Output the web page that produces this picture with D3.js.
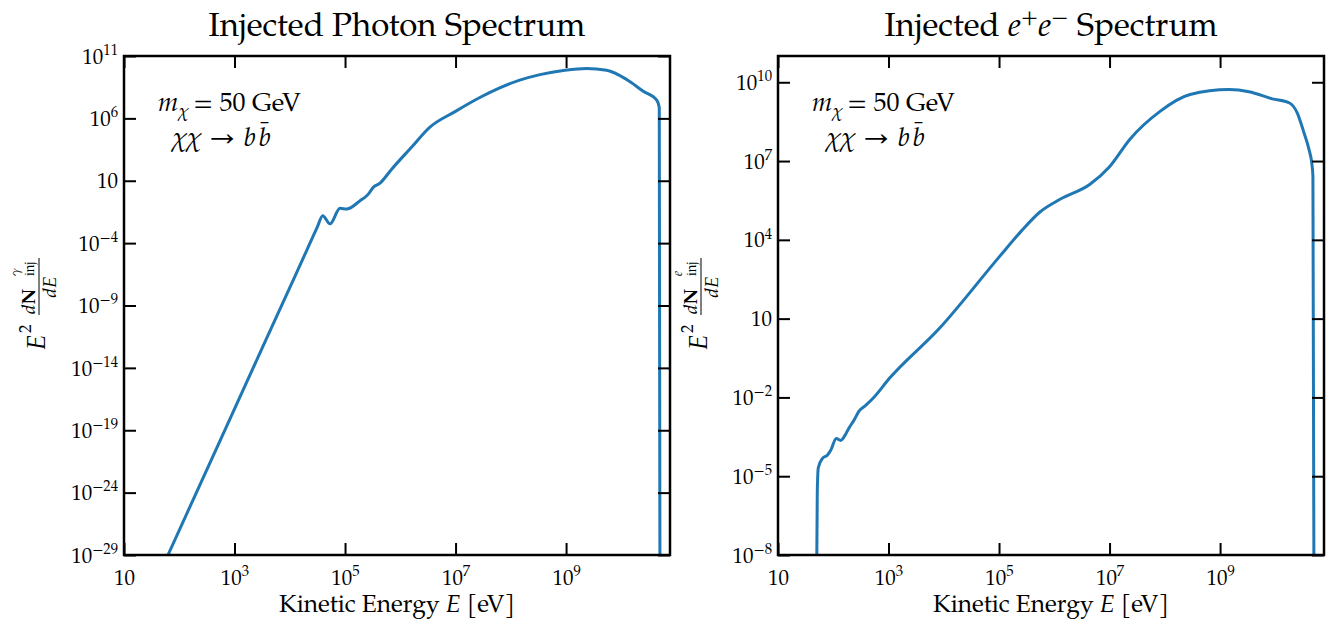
<!DOCTYPE html>
<html>
<head>
<meta charset="utf-8">
<script src="https://cdn.jsdelivr.net/npm/d3@7"></script>
<style>
  body { margin: 0; background: #fff; }
  svg text { font-family: "P052", "TeX Gyre Pagella", "URW Palladio L", "Palatino Linotype", "Palatino", "Liberation Serif", serif; fill: #000; }
</style>
</head>
<body>
<svg id="fig" width="1328" height="621"></svg>
<script>
// Injected photon spectrum, E^2 dN/dE vs kinetic energy E [eV]
const photonEnergy = [50, 62.5, 3.16e3, 1.01e4, 2.0e4, 3.16e4, 3.94e4, 5.35e4, 8.11e4, 1.07e5, 1.87e5, 2.64e5,
  3.24e5, 4.30e5, 6.98e5, 1.55e6, 3.44e6, 9.8e6, 2.75e7, 6.3e7, 1.45e8, 3.37e8, 9.55e8, 2.36e9, 5.43e9,
  1.25e10, 2.49e10, 4.37e10, 4.86e10, 5.0e10];
const photonValue = [1.15e-30, 1e-29, 3.8e-13, 3.0e-8, 2.3e-5, 2.0e-3, 1.6e-2, 3.5e-3, 6.2e-2, 5.4e-2, 0.25, 0.85,
  2.95, 6.5, 85, 4.2e3, 2.0e5, 3.5e6, 4.7e7, 2.8e8, 1.15e9, 3.2e9, 7.1e9, 9.8e9, 7.1e9,
  1.3e9, 1.5e8, 2.9e7, 7.1e6, 1e-31];

// Injected e+e- spectrum
const electronEnergy = [50, 51.4, 53.6, 63.4, 78, 90, 113.5, 136.5, 163, 193, 237, 292, 386, 546, 1020,
  8200, 1.0e5, 2.5e5, 5.5e5, 1.27e6, 4.43e6, 9.8e6, 2.34e7, 8.2e7, 2.86e8, 1.45e9, 3.34e9, 8.81e9,
  1.77e10, 2.49e10, 3.30e10, 4.06e10, 4.55e10, 4.79e10, 5.0e10];
const electronValue = [1e-9, 2.6e-6, 2.1e-5, 4.7e-5, 6.3e-5, 9.8e-5, 2.7e-4, 2.3e-4, 3.6e-4, 6.9e-4, 1.35e-3,
  3.0e-3, 5.0e-3, 1.02e-2, 5.1e-2, 4.1, 2.2e3, 2.1e4, 1.15e5, 3.5e5, 1.3e6, 5.8e6, 6.8e7, 7.8e8,
  3.4e9, 5.25e9, 4.37e9, 2.34e9, 1.66e9, 6.9e8, 1.2e8, 2.8e7, 8.7e6, 2.7e6, 1e-9];

// Tick positions (powers of ten)
const xTickExponents = [1, 3, 5, 7, 9];
const photonYTickExponents = [-29, -24, -19, -14, -9, -4, 1, 6, 11];
const electronYTickExponents = [-8, -5, -2, 1, 4, 7, 10];

const svg = d3.select("#fig");
const lineColor = "#1f77b4";

const panels = [
  { left: 124, right: 670, top: 56, bottom: 555, yDomain: [1e-29, 1e11], yTicks: photonYTickExponents,
    energy: photonEnergy, value: photonValue, labelX: 39, species: "\u03b3", id: "photon" },
  { left: 778, right: 1324, top: 56, bottom: 555, yDomain: [1e-8, 1e11], yTicks: electronYTickExponents,
    energy: electronEnergy, value: electronValue, labelX: 701, species: "e", id: "electron" }
];

function powerLabel(sel, fs) {
  sel.each(function (v) {
    const e = Math.round(Math.log10(v));
    const t = d3.select(this).text(null);
    t.append("tspan").text("10");
    if (e !== 1) {
      t.append("tspan").attr("dy", -0.42 * fs).attr("font-size", fs * 0.7)
        .text(e < 0 ? "\u2212" + (-e) : String(e));
    }
  });
}

panels.forEach((p, i) => {
  const x = d3.scaleLog().domain([10, 7.6e10]).range([p.left, p.right]);
  const y = d3.scaleLog().domain(p.yDomain).range([p.bottom, p.top]);
  const xt = xTickExponents.map(e => Math.pow(10, e));
  const yt = p.yTicks.map(e => Math.pow(10, e));
  const tickFs = 21;

  const g = svg.append("g");

  // clip region for the curve
  svg.append("clipPath").attr("id", "clip-" + p.id)
    .append("rect").attr("x", p.left).attr("y", p.top)
    .attr("width", p.right - p.left).attr("height", p.bottom - p.top);

  // spectrum curve
  const pts = p.energy.map((e, k) => [e, p.value[k]]);
  const line = d3.line().x(d => x(d[0])).y(d => y(Math.max(d[1], 1e-40))).curve(d3.curveMonotoneX);
  g.append("path").datum(pts).attr("d", line)
    .attr("clip-path", "url(#clip-" + p.id + ")")
    .attr("fill", "none").attr("stroke", lineColor).attr("stroke-width", 3)
    .attr("stroke-linejoin", "round");

  // axes with inward ticks on all four sides
  const bottom = g.append("g").attr("transform", `translate(0,${p.bottom})`)
    .call(d3.axisBottom(x).tickValues(xt).tickSizeInner(-12).tickSizeOuter(0).tickPadding(15));
  const top = g.append("g").attr("transform", `translate(0,${p.top})`)
    .call(d3.axisTop(x).tickValues(xt).tickSizeInner(-12).tickSizeOuter(0).tickFormat(""));
  const left = g.append("g").attr("transform", `translate(${p.left},0)`)
    .call(d3.axisLeft(y).tickValues(yt).tickSizeInner(-12).tickSizeOuter(0).tickPadding(6));
  const right = g.append("g").attr("transform", `translate(${p.right},0)`)
    .call(d3.axisRight(y).tickValues(yt).tickSizeInner(-12).tickSizeOuter(0).tickFormat(""));

  [bottom, top, left, right].forEach(a => {
    a.select(".domain").remove();
    a.selectAll(".tick line").attr("stroke", "#000").attr("stroke-width", 2);
    a.selectAll("text").attr("font-size", tickFs).attr("font-family", null).attr("fill", "#000");
  });
  bottom.selectAll(".tick text").call(powerLabel, tickFs);
  left.selectAll(".tick text").attr("dy", "0.34em").call(powerLabel, tickFs);

  // frame
  g.append("rect").attr("x", p.left).attr("y", p.top)
    .attr("width", p.right - p.left).attr("height", p.bottom - p.top)
    .attr("fill", "none").attr("stroke", "#000").attr("stroke-width", 2.5);

  const cx = (p.left + p.right) / 2;

  // title
  const title = g.append("text").attr("x", cx).attr("y", 36).attr("text-anchor", "middle")
    .attr("font-size", 33);
  if (i === 0) {
    title.text("Injected Photon Spectrum");
  } else {
    title.append("tspan").text("Injected ");
    title.append("tspan").attr("font-style", "italic").text("e");
    title.append("tspan").attr("dy", -12).attr("font-size", 23).text("+");
    title.append("tspan").attr("dy", 12).attr("font-style", "italic").text("e");
    title.append("tspan").attr("dy", -12).attr("font-size", 23).text("\u2212");
    title.append("tspan").attr("dy", 12).text(" Spectrum");
  }

  // x-axis label
  const xl = g.append("text").attr("x", cx).attr("y", 612).attr("text-anchor", "middle").attr("font-size", 24.5);
  xl.append("tspan").text("Kinetic Energy ");
  xl.append("tspan").attr("font-style", "italic").text("E");
  xl.append("tspan").text(" [eV]");

  // y-axis label: E^2 dN_inj / dE
  const yl = g.append("g").attr("transform", `translate(${p.labelX},304) rotate(-90)`);
  yl.append("text").attr("x", -46).attr("y", 6).attr("font-size", 25).attr("font-style", "italic").text("E");
  yl.append("text").attr("x", -29).attr("y", -8).attr("font-size", 17).text("2");
  const num = yl.append("text").attr("x", -10).attr("y", -4).attr("font-size", 19);
  num.append("tspan").attr("font-style", "italic").text("d");
  num.append("tspan").attr("font-weight", "bold").text("N");
  const nx = 28;
  yl.append("text").attr("x", nx).attr("y", -19).attr("font-size", 13).attr("font-style", "italic").text(p.species);
  yl.append("text").attr("x", nx).attr("y", -5).attr("font-size", 13).text("inj");
  yl.append("line").attr("x1", -11).attr("x2", 46).attr("y1", 0).attr("y2", 0)
    .attr("stroke", "#000").attr("stroke-width", 1);
  const den = yl.append("text").attr("x", 17).attr("y", 17).attr("font-size", 19).attr("text-anchor", "middle");
  den.append("tspan").attr("font-style", "italic").text("d");
  den.append("tspan").attr("font-style", "italic").text("E");

  // annotation: dark matter mass and channel
  const ax = p.left + 34;
  const a1 = g.append("text").attr("x", ax).attr("y", 111).attr("font-size", 26);
  a1.append("tspan").attr("font-style", "italic").text("m");
  a1.append("tspan").attr("dy", 6).attr("font-size", 18).attr("font-style", "italic").text("\u03c7");
  a1.append("tspan").attr("dy", -6).attr("dx", 5).text("= 50 GeV");
  const a2 = g.append("text").attr("x", ax + 14).attr("y", 146).attr("font-size", 26);
  a2.append("tspan").attr("font-style", "italic").text("\u03c7\u03c7");
  a2.append("tspan").attr("dx", 8).attr("font-size", 29).text("\u2192");
  a2.append("tspan").attr("dx", 8).attr("font-style", "italic").text("b");
  a2.append("tspan").attr("dx", 3).attr("font-style", "italic").text("b\u0304");
});
</script>
</body>
</html>
